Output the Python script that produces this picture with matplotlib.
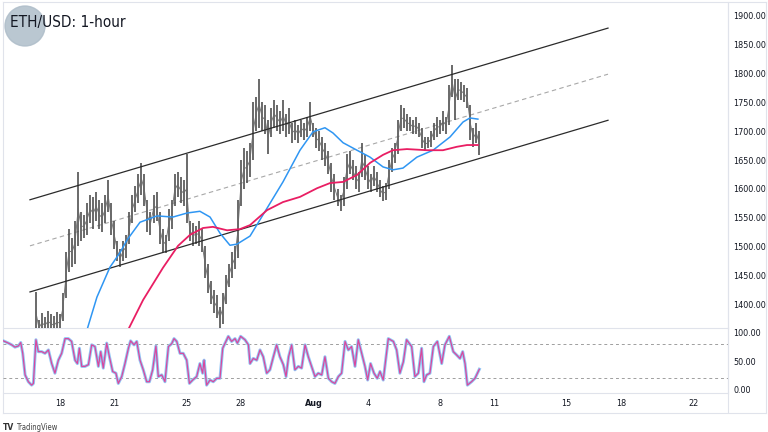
import matplotlib
matplotlib.use("Agg")
import matplotlib.pyplot as plt
from matplotlib.patches import Ellipse

plt.rcParams["font.family"] = ["DejaVu Sans"]

TITLE = "ETH/USD: 1-hour"

# x axis is "day of July" (Aug 1 = 32)
# 4-hour bars, first bar Jul 16 16:00
bar_start = 16 + 4 / 6
bar_step = 1 / 6
bar_high = [1421, 1372, 1385, 1378, 1388, 1382, 1380, 1386, 1383, 1420,
            1490, 1530, 1515, 1545, 1630, 1560, 1555, 1575, 1590, 1585,
            1595, 1580, 1575, 1590, 1615, 1575, 1545, 1510, 1495, 1510,
            1520, 1560, 1590, 1605, 1625, 1645, 1625, 1580, 1560, 1590,
            1595, 1560, 1530, 1520, 1565, 1580, 1625, 1630, 1620, 1615,
            1660, 1545, 1540, 1535, 1545, 1530, 1500, 1470, 1440, 1425,
            1415, 1395, 1420, 1450, 1470, 1490, 1500, 1580, 1650, 1670,
            1665, 1680, 1750, 1760, 1790, 1750, 1745, 1720, 1740, 1755,
            1745, 1735, 1755, 1730, 1740, 1715, 1720, 1710, 1720, 1715,
            1725, 1750, 1715, 1705, 1700, 1690, 1680, 1665, 1645, 1625,
            1600, 1590, 1620, 1660, 1665, 1650, 1640, 1630, 1680, 1660,
            1640, 1625, 1640, 1630, 1615, 1605, 1610, 1650, 1670, 1680,
            1720, 1745, 1740, 1730, 1725, 1720, 1725, 1715, 1705, 1690,
            1690, 1700, 1715, 1725, 1720, 1735, 1725, 1780, 1815, 1790,
            1790, 1785, 1780, 1775, 1745, 1705, 1715, 1700]
bar_low = [1352, 1345, 1350, 1348, 1352, 1350, 1346, 1352, 1350, 1370,
           1410, 1455, 1465, 1470, 1500, 1510, 1515, 1520, 1540, 1530,
           1545, 1530, 1525, 1540, 1560, 1520, 1495, 1475, 1465, 1475,
           1480, 1505, 1540, 1560, 1575, 1590, 1570, 1525, 1520, 1540,
           1545, 1505, 1490, 1488, 1510, 1530, 1570, 1585, 1575, 1570,
           1540, 1510, 1500, 1505, 1500, 1490, 1445, 1420, 1400, 1385,
           1375, 1358, 1365, 1400, 1430, 1445, 1460, 1480, 1570, 1600,
           1610, 1620, 1650, 1700, 1705, 1700, 1695, 1660, 1690, 1705,
           1700, 1695, 1700, 1690, 1695, 1680, 1685, 1680, 1690, 1685,
           1690, 1700, 1690, 1670, 1665, 1650, 1640, 1625, 1595, 1580,
           1570, 1562, 1570, 1600, 1625, 1615, 1600, 1595, 1620, 1615,
           1600, 1595, 1605, 1595, 1585, 1578, 1580, 1600, 1630, 1645,
           1660, 1700, 1705, 1700, 1700, 1695, 1695, 1690, 1670, 1665,
           1670, 1672, 1685, 1690, 1695, 1700, 1695, 1710, 1760, 1720,
           1755, 1755, 1750, 1740, 1685, 1672, 1680, 1658]

# blue moving average
fast_days = [19.22, 19.49, 20.04, 20.76, 21.31, 21.70, 22.42, 23.36, 24.24,
             25.02, 25.73, 26.29, 26.84, 27.39, 27.78, 28.50, 29.22, 30.32,
             31.26, 31.98, 32.64, 33.08, 33.64, 34.41, 35.13, 35.85, 36.40,
             36.95, 37.72, 38.61, 39.55, 40.27, 40.65, 41.09]
fast_vals = [1337, 1355, 1412, 1464, 1489, 1511, 1542, 1553, 1551,
             1558, 1561, 1551, 1523, 1502, 1504, 1518, 1555, 1612,
             1667, 1699, 1706, 1697, 1680, 1667, 1655, 1638, 1633,
             1636, 1655, 1667, 1690, 1716, 1723, 1721]

# pink moving average
slow_days = [21.54, 21.76, 22.59, 23.69, 24.52, 25.18, 25.90, 26.45, 27.23,
             27.94, 28.50, 29.44, 30.32, 31.26, 32.20, 32.92, 33.64, 34.41,
             35.13, 35.85, 36.40, 37.17, 38.28, 39.16, 39.93, 40.49, 41.09]
slow_vals = [1337, 1355, 1407, 1463, 1501, 1520, 1532, 1534, 1528,
             1530, 1537, 1563, 1577, 1586, 1601, 1610, 1612, 1624,
             1645, 1659, 1667, 1669, 1667, 1667, 1673, 1676, 1676]

# stochastic oscillator
stoch_days = [14.87, 15.15, 15.33, 15.51, 15.70, 15.83, 15.94, 16.07, 16.25,
              16.43, 16.53, 16.67, 16.80, 16.99, 17.17, 17.36, 17.54, 17.72,
              17.91, 18.09, 18.28, 18.46, 18.64, 18.83, 18.96, 19.07, 19.20,
              19.38, 19.57, 19.75, 19.93, 20.12, 20.25, 20.39, 20.58, 20.73,
              20.91, 21.09, 21.22, 21.41, 21.59, 21.78, 21.90, 22.09, 22.24,
              22.42, 22.60, 22.79, 22.94, 23.12, 23.30, 23.43, 23.62, 23.80,
              23.99, 24.17, 24.30, 24.45, 24.63, 24.81, 25.00, 25.15, 25.33,
              25.55, 25.73, 25.88, 25.96, 26.10, 26.29, 26.47, 26.66, 26.84,
              26.99, 27.12, 27.30, 27.48, 27.67, 27.80, 27.98, 28.22, 28.41,
              28.50, 28.68, 28.87, 29.05, 29.23, 29.42, 29.60, 29.79, 29.97,
              30.15, 30.34, 30.49, 30.63, 30.80, 30.98, 31.17, 31.35, 31.54,
              31.72, 31.90, 32.09, 32.27, 32.46, 32.64, 32.83, 33.01, 33.19,
              33.38, 33.56, 33.75, 33.93, 34.11, 34.30, 34.48, 34.67, 34.85,
              35.00, 35.16, 35.35, 35.53, 35.68, 35.86, 36.14, 36.42, 36.60,
              36.78, 36.97, 37.15, 37.43, 37.61, 37.80, 37.98, 38.11, 38.26,
              38.44, 38.63, 38.85, 39.09, 39.27, 39.51, 39.73, 39.92, 40.10,
              40.25, 40.38, 40.51, 40.74, 40.93, 41.17]
stoch_vals = [86, 82, 79, 75, 77, 83, 64, 26, 14,
              8, 11, 88, 67, 67, 64, 70, 46, 29,
              52, 64, 90, 90, 85, 52, 46, 73, 41,
              41, 44, 79, 76, 41, 67, 38, 82, 58,
              32, 29, 11, 23, 46, 73, 86, 79, 85,
              52, 35, 14, 14, 35, 77, 23, 26, 14,
              76, 81, 90, 85, 64, 64, 52, 11, 17,
              23, 46, 29, 52, 8, 17, 14, 20, 20,
              73, 82, 94, 85, 90, 82, 94, 88, 79,
              46, 55, 52, 70, 58, 29, 35, 58, 79,
              58, 44, 23, 58, 79, 35, 41, 38, 79,
              58, 41, 23, 29, 26, 58, 20, 14, 11,
              23, 29, 85, 70, 76, 41, 88, 64, 41,
              17, 46, 29, 20, 32, 17, 90, 85, 70,
              29, 49, 88, 76, 23, 29, 73, 14, 26,
              29, 76, 85, 46, 79, 94, 67, 61, 55,
              67, 46, 8, 14, 20, 36]

# rising channel (two anchor dates)
chan_days = [16.34, 48.28]
chan_upper = [1581, 1879]
chan_lower = [1421, 1719]
chan_mid = [1501, 1799]

price_ticks = [1400, 1450, 1500, 1550, 1600, 1650, 1700, 1750, 1800, 1850, 1900]
stoch_ticks = [0, 50, 100]
date_ticks = [18, 21, 25, 28, 32, 35, 39, 42, 46, 49, 53]
date_labels = ["18", "21", "25", "28", "Aug", "4", "8", "11", "15", "18", "22"]

W, H = 768, 432
GRID = "#e0e3eb"
TXT = "#131722"


def fy(py):
    return 1 - py / H


fig = plt.figure(figsize=(W / 100, H / 100), dpi=100)

# outer frame
frame = fig.add_axes([3 / W, fy(413), 763 / W, 411 / H])
frame.set_xticks([]); frame.set_yticks([])
for s in frame.spines.values():
    s.set_color(GRID); s.set_linewidth(0.8)
frame.patch.set_alpha(0)
# separator of the date strip
frame.axvline((728 - 3) / 763, color=GRID, lw=0.8)

ax = fig.add_axes([3 / W, fy(328), 725 / W, 326 / H])
ax2 = fig.add_axes([3 / W, fy(393), 725 / W, 65 / H], sharex=ax)
for a in (ax, ax2):
    a.patch.set_alpha(0)
    for k in ("top", "left"):
        a.spines[k].set_visible(False)
    for k in ("right", "bottom"):
        a.spines[k].set_color(GRID); a.spines[k].set_linewidth(0.8)
    a.yaxis.tick_right()
    a.tick_params(axis="y", length=0, pad=4, labelsize=6.5, labelcolor=TXT)

ax.set_xlim(14.85, 54.91)
ax.set_ylim(1358.4, 1924.3)
ax2.set_ylim(-5.9, 108.7)

# candles (high-low strokes) plus a thin line through their mid points
bar_t = [bar_start + i * bar_step for i in range(len(bar_high))]
bar_mid = [(h + l) / 2 for h, l in zip(bar_high, bar_low)]
ax.vlines(bar_t, bar_low, bar_high, color="#505050", lw=1.2, zorder=3)
ax.plot(bar_t, bar_mid, color="#6a6a6a", lw=0.6, zorder=3)

# channel
ax.plot(chan_days, chan_upper, color="#2b2b2b", lw=0.9, zorder=4)
ax.plot(chan_days, chan_lower, color="#2b2b2b", lw=0.9, zorder=4)
ax.plot(chan_days, chan_mid, color="#a8a8a8", lw=0.8, ls=(0, (4, 3)), zorder=2)

# moving averages
ax.plot(fast_days, fast_vals, color="#2f96f3", lw=1.1, zorder=5)
ax.plot(slow_days, slow_vals, color="#e91e63", lw=1.3, zorder=5)

ax.set_yticks(price_ticks)
ax.set_yticklabels([f"{v:.2f}" for v in price_ticks], fontstretch="condensed")
ax.tick_params(axis="x", bottom=False, labelbottom=False)

# stochastic
ax2.axhline(80, color="#9e9e9e", lw=0.7, ls=(0, (3, 3)))
ax2.axhline(20, color="#9e9e9e", lw=0.7, ls=(0, (3, 3)))
ax2.plot(stoch_days, stoch_vals, color="#93c8f6", lw=2.2, zorder=3)
ax2.plot(stoch_days, stoch_vals, color="#d9479d", lw=0.9, zorder=4)
ax2.set_yticks(stoch_ticks)
ax2.set_yticklabels([f"{v:.2f}" for v in stoch_ticks], fontstretch="condensed")

ax2.set_xticks(date_ticks)
ax2.set_xticklabels(date_labels, fontstretch="condensed")
ax2.tick_params(axis="x", length=0, pad=4, labelsize=6.5, labelcolor=TXT)
for lbl in ax2.get_xticklabels():
    if lbl.get_text() == "Aug":
        lbl.set_fontweight("bold")

# watermark logo + title
fig.add_artist(Ellipse((25 / W, fy(26)), 40 / W, 40 / H, transform=fig.transFigure,
                       color="#aebdc9", alpha=0.85, zorder=10))
fig.text(10 / W, fy(23), TITLE, fontsize=11, fontstretch="condensed",
         color=TXT, va="center", ha="left", zorder=11)

fig.text(3 / W, fy(427), "TV", fontsize=5.5, fontweight="bold", color="#333333", va="center")
fig.text(16 / W, fy(427), "TradingView", fontsize=5.5, fontstretch="condensed",
         color="#444444", va="center")

fig.savefig("out.png", dpi=100)
